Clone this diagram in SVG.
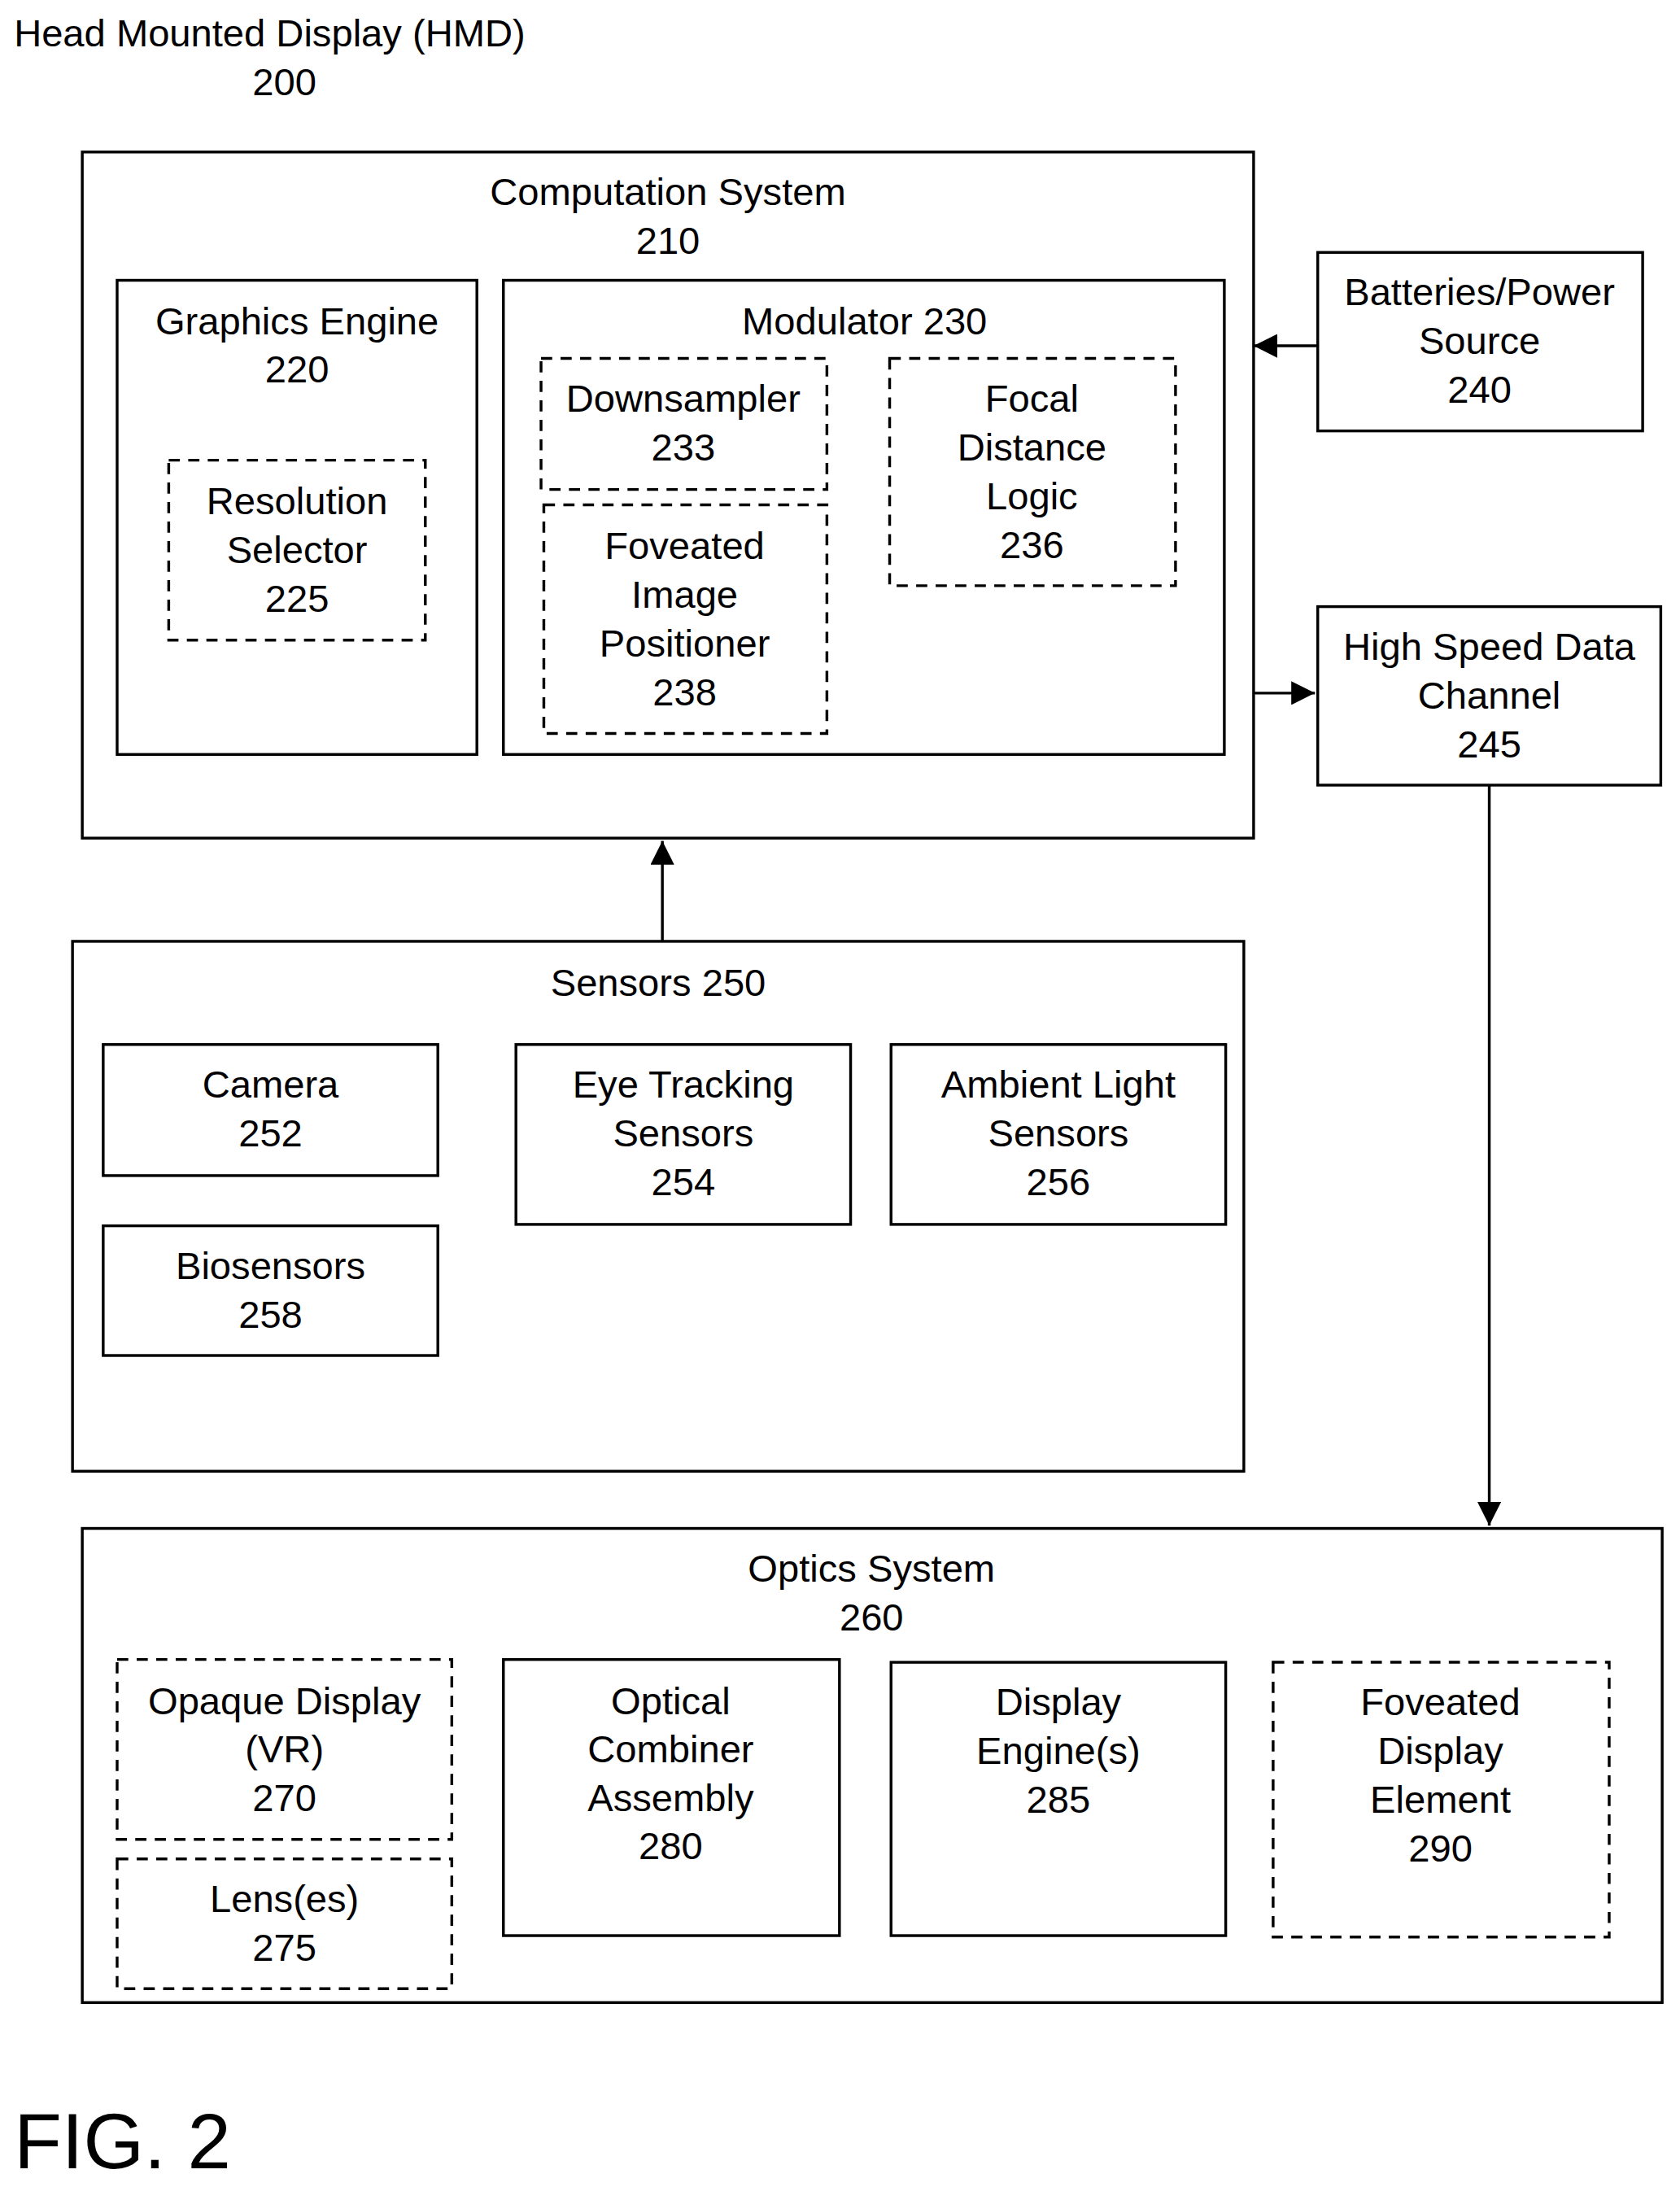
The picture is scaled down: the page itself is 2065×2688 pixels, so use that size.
<svg xmlns="http://www.w3.org/2000/svg" width="2065" height="2688" viewBox="0 0 2065 2688">
<style>
rect{fill:none;stroke:#000;stroke-width:2}
.d{stroke-dasharray:8 6}
text{font-family:"Liberation Sans",Arial,sans-serif;font-size:27.5px;fill:#000;text-anchor:middle}
.c line{stroke:#000;stroke-width:2}
</style>
<defs><marker id="b" viewBox="0 0 10 10" refX="10" refY="5" markerWidth="22" markerHeight="17" markerUnits="userSpaceOnUse" orient="auto"><path d="M0,0L10,5L0,10z" fill="#000"/></marker></defs>
<rect x="0" y="0" width="2065" height="2688" style="fill:#fff;stroke:none"/>
<g transform="scale(1.714)">
<g id="title"><text x="10" y="33" style="text-anchor:start">Head Mounted Display (HMD)</text><text x="204" y="68">200</text></g>
<g id="n210"><rect x="59" y="109" width="840" height="492"/><text x="479" y="147">Computation System</text><text x="479" y="182">210</text></g>
<g id="n220"><rect x="84" y="201" width="258" height="340"/><text x="213" y="240">Graphics Engine</text><text x="213" y="274">220</text></g>
<g id="n225"><rect class="d" x="121" y="330" width="184" height="129"/><text x="213" y="369">Resolution</text><text x="213" y="404">Selector</text><text x="213" y="439">225</text></g>
<g id="n230"><rect x="361" y="201" width="517" height="340"/><text x="620" y="240">Modulator 230</text></g>
<g id="n233"><rect class="d" x="388" y="257" width="205" height="94"/><text x="490" y="295">Downsampler</text><text x="490" y="330">233</text></g>
<g id="n238"><rect class="d" x="390" y="362" width="203" height="164"/><text x="491" y="401">Foveated</text><text x="491" y="436">Image</text><text x="491" y="471">Positioner</text><text x="491" y="506">238</text></g>
<g id="n236"><rect class="d" x="638" y="257" width="205" height="163"/><text x="740" y="295">Focal</text><text x="740" y="330">Distance</text><text x="740" y="365">Logic</text><text x="740" y="400">236</text></g>
<g id="n240"><rect x="945" y="181" width="233" height="128"/><text x="1061" y="219">Batteries/Power</text><text x="1061" y="254">Source</text><text x="1061" y="289">240</text></g>
<g id="n245"><rect x="945" y="435" width="246" height="128"/><text x="1068" y="473">High Speed Data</text><text x="1068" y="508">Channel</text><text x="1068" y="543">245</text></g>
<g id="n250"><rect x="52" y="675" width="840" height="380"/><text x="472" y="714">Sensors 250</text></g>
<g id="n252"><rect x="74" y="749" width="240" height="94"/><text x="194" y="787">Camera</text><text x="194" y="822">252</text></g>
<g id="n254"><rect x="370" y="749" width="240" height="129"/><text x="490" y="787">Eye Tracking</text><text x="490" y="822">Sensors</text><text x="490" y="857">254</text></g>
<g id="n256"><rect x="639" y="749" width="240" height="129"/><text x="759" y="787">Ambient Light</text><text x="759" y="822">Sensors</text><text x="759" y="857">256</text></g>
<g id="n258"><rect x="74" y="879" width="240" height="93"/><text x="194" y="917">Biosensors</text><text x="194" y="952">258</text></g>
<g id="n260"><rect x="59" y="1096" width="1133" height="340"/><text x="625" y="1134">Optics System</text><text x="625" y="1169">260</text></g>
<g id="n270"><rect class="d" x="84" y="1190" width="240" height="129"/><text x="204" y="1229">Opaque Display</text><text x="204" y="1264">(VR)</text><text x="204" y="1299">270</text></g>
<g id="n275"><rect class="d" x="84" y="1333" width="240" height="93"/><text x="204" y="1371">Lens(es)</text><text x="204" y="1406">275</text></g>
<g id="n280"><rect x="361" y="1190" width="241" height="198"/><text x="481" y="1229">Optical</text><text x="481" y="1264">Combiner</text><text x="481" y="1299">Assembly</text><text x="481" y="1333">280</text></g>
<g id="n285"><rect x="639" y="1192" width="240" height="196"/><text x="759" y="1230">Display</text><text x="759" y="1265">Engine(s)</text><text x="759" y="1300">285</text></g>
<g id="n290"><rect class="d" x="913" y="1192" width="241" height="197"/><text x="1033" y="1230">Foveated</text><text x="1033" y="1265">Display</text><text x="1033" y="1300">Element</text><text x="1033" y="1335">290</text></g>
<g class="c" id="connectors">
<line x1="945" y1="248" x2="899" y2="248" marker-end="url(#b)"/>
<line x1="899" y1="497" x2="943" y2="497" marker-end="url(#b)"/>
<line x1="1068" y1="563" x2="1068" y2="1094" marker-end="url(#b)"/>
<line x1="475" y1="675" x2="475" y2="603" marker-end="url(#b)"/>
</g>
<text x="10" y="1555" style="text-anchor:start;font-size:56px">FIG. 2</text>
</g>
</svg>
